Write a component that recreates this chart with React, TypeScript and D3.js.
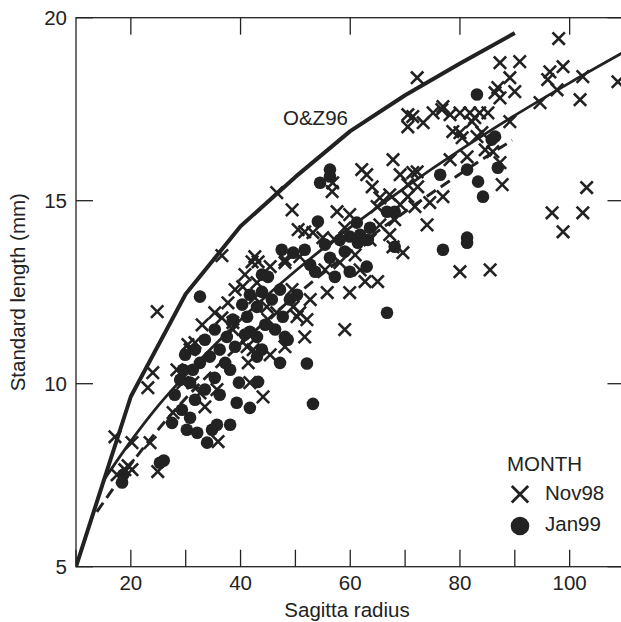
import React from "react";
import * as d3 from "d3";

type P = [number, number];

const xTicksBottom = [10, 20, 30, 40, 50, 60, 70, 80, 90, 100, 110];
const xTicksTop = [20, 40, 60, 80, 100];
const xTickLabels = [20, 40, 60, 80, 100];
const yTicks = [5, 10, 15, 20];
const legendLabels = ["Nov98", "Jan99"];

const nov98: P[] = [
  [17.1, 8.55], [20.2, 8.39], [23.5, 8.39], [17.5, 7.51], [18.9, 7.65], [19.5, 7.76], [20.2, 7.65], [24.9, 7.6],
  [24.0, 10.3], [23.1, 9.89], [24.8, 11.97], [27.7, 9.21], [33.5, 9.37], [35.9, 8.42], [28.4, 10.38], [29.5, 10.03],
  [31.3, 10.03], [32.6, 9.75], [35.7, 9.84], [30.4, 11.07], [31.7, 11.12], [30.8, 10.93], [33.0, 11.61], [35.3, 11.94],
  [36.6, 11.8], [38.6, 11.67], [37.7, 12.21], [40.4, 12.65], [43.0, 12.76], [42.6, 12.35], [44.8, 12.1], [46.6, 11.94],
  [45.0, 11.75], [49.6, 12.1], [50.3, 11.83], [41.2, 11.01], [42.3, 10.93], [41.4, 10.57], [48.1, 11.01], [41.7, 10.03],
  [44.1, 9.64], [38.6, 11.48], [42.6, 13.47], [43.2, 13.33], [42.1, 13.33], [45.4, 13.2], [48.1, 13.31], [46.6, 15.22],
  [49.4, 14.75], [50.5, 14.21], [36.6, 13.5],
  [56.7, 15.25], [57.6, 14.7], [62.1, 15.85], [63.0, 15.71], [64.0, 15.38], [67.8, 16.12], [69.1, 15.71], [70.5, 15.44],
  [72.2, 15.79], [72.3, 15.38], [70.5, 15.11], [67.2, 15.16], [65.4, 15.08], [64.9, 14.84], [71.8, 14.84], [76.9, 15.11],
  [74.5, 14.95], [74.0, 14.34], [67.8, 13.74], [69.6, 13.58], [80.0, 13.06], [85.5, 13.11], [59.0, 11.48], [55.8, 12.49],
  [59.9, 12.49], [62.7, 12.79], [65.0, 12.79], [51.7, 14.15], [53.2, 14.13], [55.0, 13.99], [48.1, 13.39], [50.8, 13.47],
  [52.1, 11.75], [50.8, 11.94], [51.7, 11.28],
  [70.5, 17.02], [71.4, 17.3], [73.3, 17.13], [75.1, 17.4], [76.9, 17.57], [78.2, 17.35], [80.0, 17.4], [82.2, 17.16],
  [83.6, 17.4], [85.1, 17.4], [78.7, 16.89], [80.0, 16.86], [84.0, 16.86], [87.3, 16.04], [87.7, 15.44], [89.1, 17.16],
  [98.0, 19.43], [87.3, 18.77], [90.9, 18.8], [89.1, 18.36], [86.9, 18.09], [86.4, 17.95], [87.3, 17.81], [90.0, 17.98],
  [96.4, 18.52], [98.8, 18.66], [96.0, 18.31], [97.7, 18.03], [102.4, 18.39], [101.9, 17.76], [108.8, 18.25], [94.6, 17.68],
  [72.2, 18.36], [70.5, 17.35], [76.7, 17.49], [81.8, 17.4], [82.7, 17.27], [80.4, 16.72], [83.1, 16.75], [71.4, 15.77],
  [78.2, 16.12], [81.3, 16.2], [84.6, 16.39], [86.0, 16.34], [103.1, 15.36], [96.8, 14.67], [102.4, 14.67], [98.8, 14.15],
  [45.4, 10.79], [49.4, 12.57], [52.7, 12.3], [55.4, 13.11], [58.1, 13.31], [60.9, 13.52], [61.8, 13.11], [57.2, 13.93],
  [59.0, 14.26], [59.9, 14.62], [63.6, 13.93], [65.4, 14.34], [67.2, 14.07], [68.1, 14.48], [69.1, 14.89], [56.8, 15.49],
  [39.0, 12.57], [40.8, 12.98],
];

const jan99: P[] = [
  [18.4, 7.3], [18.6, 7.51], [25.3, 7.84], [26.0, 7.9], [27.5, 8.93], [29.3, 9.29], [30.8, 9.07], [32.1, 8.66],
  [30.2, 8.74], [33.9, 8.39], [34.8, 8.74], [35.7, 8.88], [38.1, 8.88], [39.3, 9.48], [41.7, 9.34], [53.2, 9.45],
  [52.1, 10.55], [39.7, 10.03], [43.2, 10.05], [32.6, 12.38], [47.5, 13.66], [49.6, 13.58], [45.0, 12.92], [47.7, 11.83],
  [48.1, 11.28], [47.2, 12.57], [43.0, 12.1], [41.2, 11.83], [38.6, 11.75], [37.5, 11.28], [36.2, 10.93], [34.4, 10.74],
  [32.6, 10.57], [31.3, 10.38], [29.5, 10.38], [29.0, 10.11], [30.8, 10.03], [37.2, 10.57], [38.1, 10.38], [39.0, 11.01],
  [41.7, 11.42], [43.0, 11.28], [43.9, 10.93], [43.0, 10.74], [47.2, 10.57], [48.6, 11.2], [40.3, 12.16], [41.7, 12.43],
  [43.9, 12.51], [45.7, 12.3], [49.0, 12.3], [44.5, 11.61], [46.3, 11.48], [40.8, 11.34], [35.3, 11.48], [33.5, 11.2],
  [31.7, 10.93], [29.9, 10.79], [28.0, 9.7], [31.7, 9.56], [33.5, 9.84], [35.3, 10.16], [36.2, 9.7],
  [56.3, 15.85], [56.3, 15.66], [54.5, 15.49], [54.1, 14.43], [61.2, 14.4], [63.6, 14.26], [61.8, 14.07], [59.9, 14.02],
  [61.4, 13.85], [63.2, 13.93], [66.7, 14.7], [68.1, 14.7], [68.1, 13.74], [81.3, 13.99], [81.3, 13.85], [76.9, 13.66],
  [63.0, 13.2], [59.9, 13.06], [57.2, 12.92], [53.6, 13.06], [66.7, 11.94], [85.8, 16.67], [86.4, 16.75], [86.9, 15.9],
  [83.3, 15.52], [84.2, 15.11], [81.3, 15.85], [76.4, 15.71], [83.1, 17.9], [51.7, 13.66], [55.4, 13.8], [58.1, 13.93],
  [59.0, 13.61], [56.3, 13.44], [52.7, 13.25], [43.9, 12.98], [50.3, 12.43],
];

// O&Z96 published relationship
const ozCurve: P[] = [
  [10, 5], [20, 9.65], [30, 12.45], [40, 14.3], [50, 15.65], [60, 16.9], [70, 17.88], [80, 18.75], [90, 19.58],
];
// solid fit (Nov98)
const novFit: P[] = [
  [15, 7.35], [20, 8.43], [25, 9.4], [30, 10.24], [40, 11.75], [50, 13.08], [60, 14.27], [70, 15.36], [80, 16.38],
  [90, 17.33], [100, 18.22], [110, 19.07],
];
// dashed fit (Jan99)
const janFit: P[] = [
  [13.8, 6.5], [20, 7.8], [25, 8.75], [30, 9.6], [40, 11.08], [50, 12.4], [60, 13.6], [70, 14.7], [80, 15.73], [89.5, 16.65],
];

const FONT = "'Liberation Sans', Arial, Helvetica, sans-serif";
const INK = "#222";

export default function App() {
  const W = 621;
  const H = 622;
  const x = d3.scaleLinear().domain([10, 110]).range([76, 624.5]);
  const y = d3.scaleLinear().domain([5, 20]).range([566.7, 17.7]);
  const [x0, x1] = x.range();
  const [y0, y1] = y.range();
  const tick = 17;

  const linear = d3.line<P>().x((d) => x(d[0])).y((d) => y(d[1]));
  const smooth = d3.line<P>().x((d) => x(d[0])).y((d) => y(d[1])).curve(d3.curveMonotoneX);

  const s = 6.2;
  const cross = (cx: number, cy: number, r: number) =>
    `M${cx - r},${cy - r}L${cx + r},${cy + r}M${cx - r},${cy + r}L${cx + r},${cy - r}`;

  return (
    <svg
      width={W}
      height={H}
      viewBox={`0 0 ${W} ${H}`}
      style={{ position: "absolute", left: 0, top: 0, background: "#fff" }}
      fontFamily={FONT}
    >
      <defs>
        <clipPath id="plot">
          <rect x={x0} y={y1} width={x1 - x0} height={y0 - y1} />
        </clipPath>
      </defs>
      <rect x={0} y={0} width={W} height={H} fill="#fff" />

      {/* frame */}
      <rect x={x0} y={y1} width={x1 - x0} height={y0 - y1} fill="none" stroke={INK} strokeWidth={1.3} />

      {/* ticks */}
      {xTicksBottom.map((t) => (
        <line key={"xb" + t} x1={x(t)} x2={x(t)} y1={y0} y2={y0 - tick} stroke={INK} strokeWidth={1.3} />
      ))}
      {xTicksTop.map((t) => (
        <line key={"xt" + t} x1={x(t)} x2={x(t)} y1={y1} y2={y1 + tick} stroke={INK} strokeWidth={1.3} />
      ))}
      {yTicks.map((t) => (
        <g key={"y" + t}>
          <line x1={x0} x2={x0 + tick} y1={y(t)} y2={y(t)} stroke={INK} strokeWidth={1.3} />
          <line x1={x1} x2={x1 - tick} y1={y(t)} y2={y(t)} stroke={INK} strokeWidth={1.3} />
        </g>
      ))}

      {/* tick labels */}
      {xTickLabels.map((t) => (
        <text key={"xl" + t} x={x(t)} y={590} textAnchor="middle" fontSize={20.5} fill={INK}>
          {t}
        </text>
      ))}
      {yTicks.map((t) => (
        <text key={"yl" + t} x={67} y={y(t) + 7.3} textAnchor="end" fontSize={20.5} fill={INK}>
          {t}
        </text>
      ))}

      {/* axis titles */}
      <text x={347} y={617} textAnchor="middle" fontSize={20.5} fill={INK}>
        Sagitta radius
      </text>
      <text
        transform={`translate(25,${(y0 + y1) / 2}) rotate(-90)`}
        textAnchor="middle"
        fontSize={20.5}
        fill={INK}
      >
        Standard length (mm)
      </text>

      <g clipPath="url(#plot)">
        {/* curves */}
        <path d={linear(ozCurve) || ""} fill="none" stroke={INK} strokeWidth={4} strokeLinejoin="round" />
        <path d={smooth(novFit) || ""} fill="none" stroke={INK} strokeWidth={2.8} />
        <path d={smooth(janFit) || ""} fill="none" stroke={INK} strokeWidth={3} strokeDasharray="11,6" />

        {/* points */}
        {jan99.map((d, i) => (
          <circle key={"j" + i} cx={x(d[0])} cy={y(d[1])} r={6.3} fill={INK} />
        ))}
        {nov98.map((d, i) => (
          <path key={"n" + i} d={cross(x(d[0]), y(d[1]), s)} stroke={INK} strokeWidth={2.6} fill="none" />
        ))}
      </g>

      <text x={283} y={125} fontSize={20.5} fill={INK}>
        O&amp;Z96
      </text>

      {/* legend */}
      <text x={507} y={471} fontSize={20.5} fill={INK}>
        MONTH
      </text>
      <path d={cross(520, 494.3, 8.2)} stroke={INK} strokeWidth={2.8} fill="none" />
      <text x={545} y={499.5} fontSize={20.5} fill={INK}>
        {legendLabels[0]}
      </text>
      <circle cx={520} cy={526} r={9.3} fill={INK} />
      <text x={545} y={531} fontSize={20.5} fill={INK}>
        {legendLabels[1]}
      </text>
    </svg>
  );
}
